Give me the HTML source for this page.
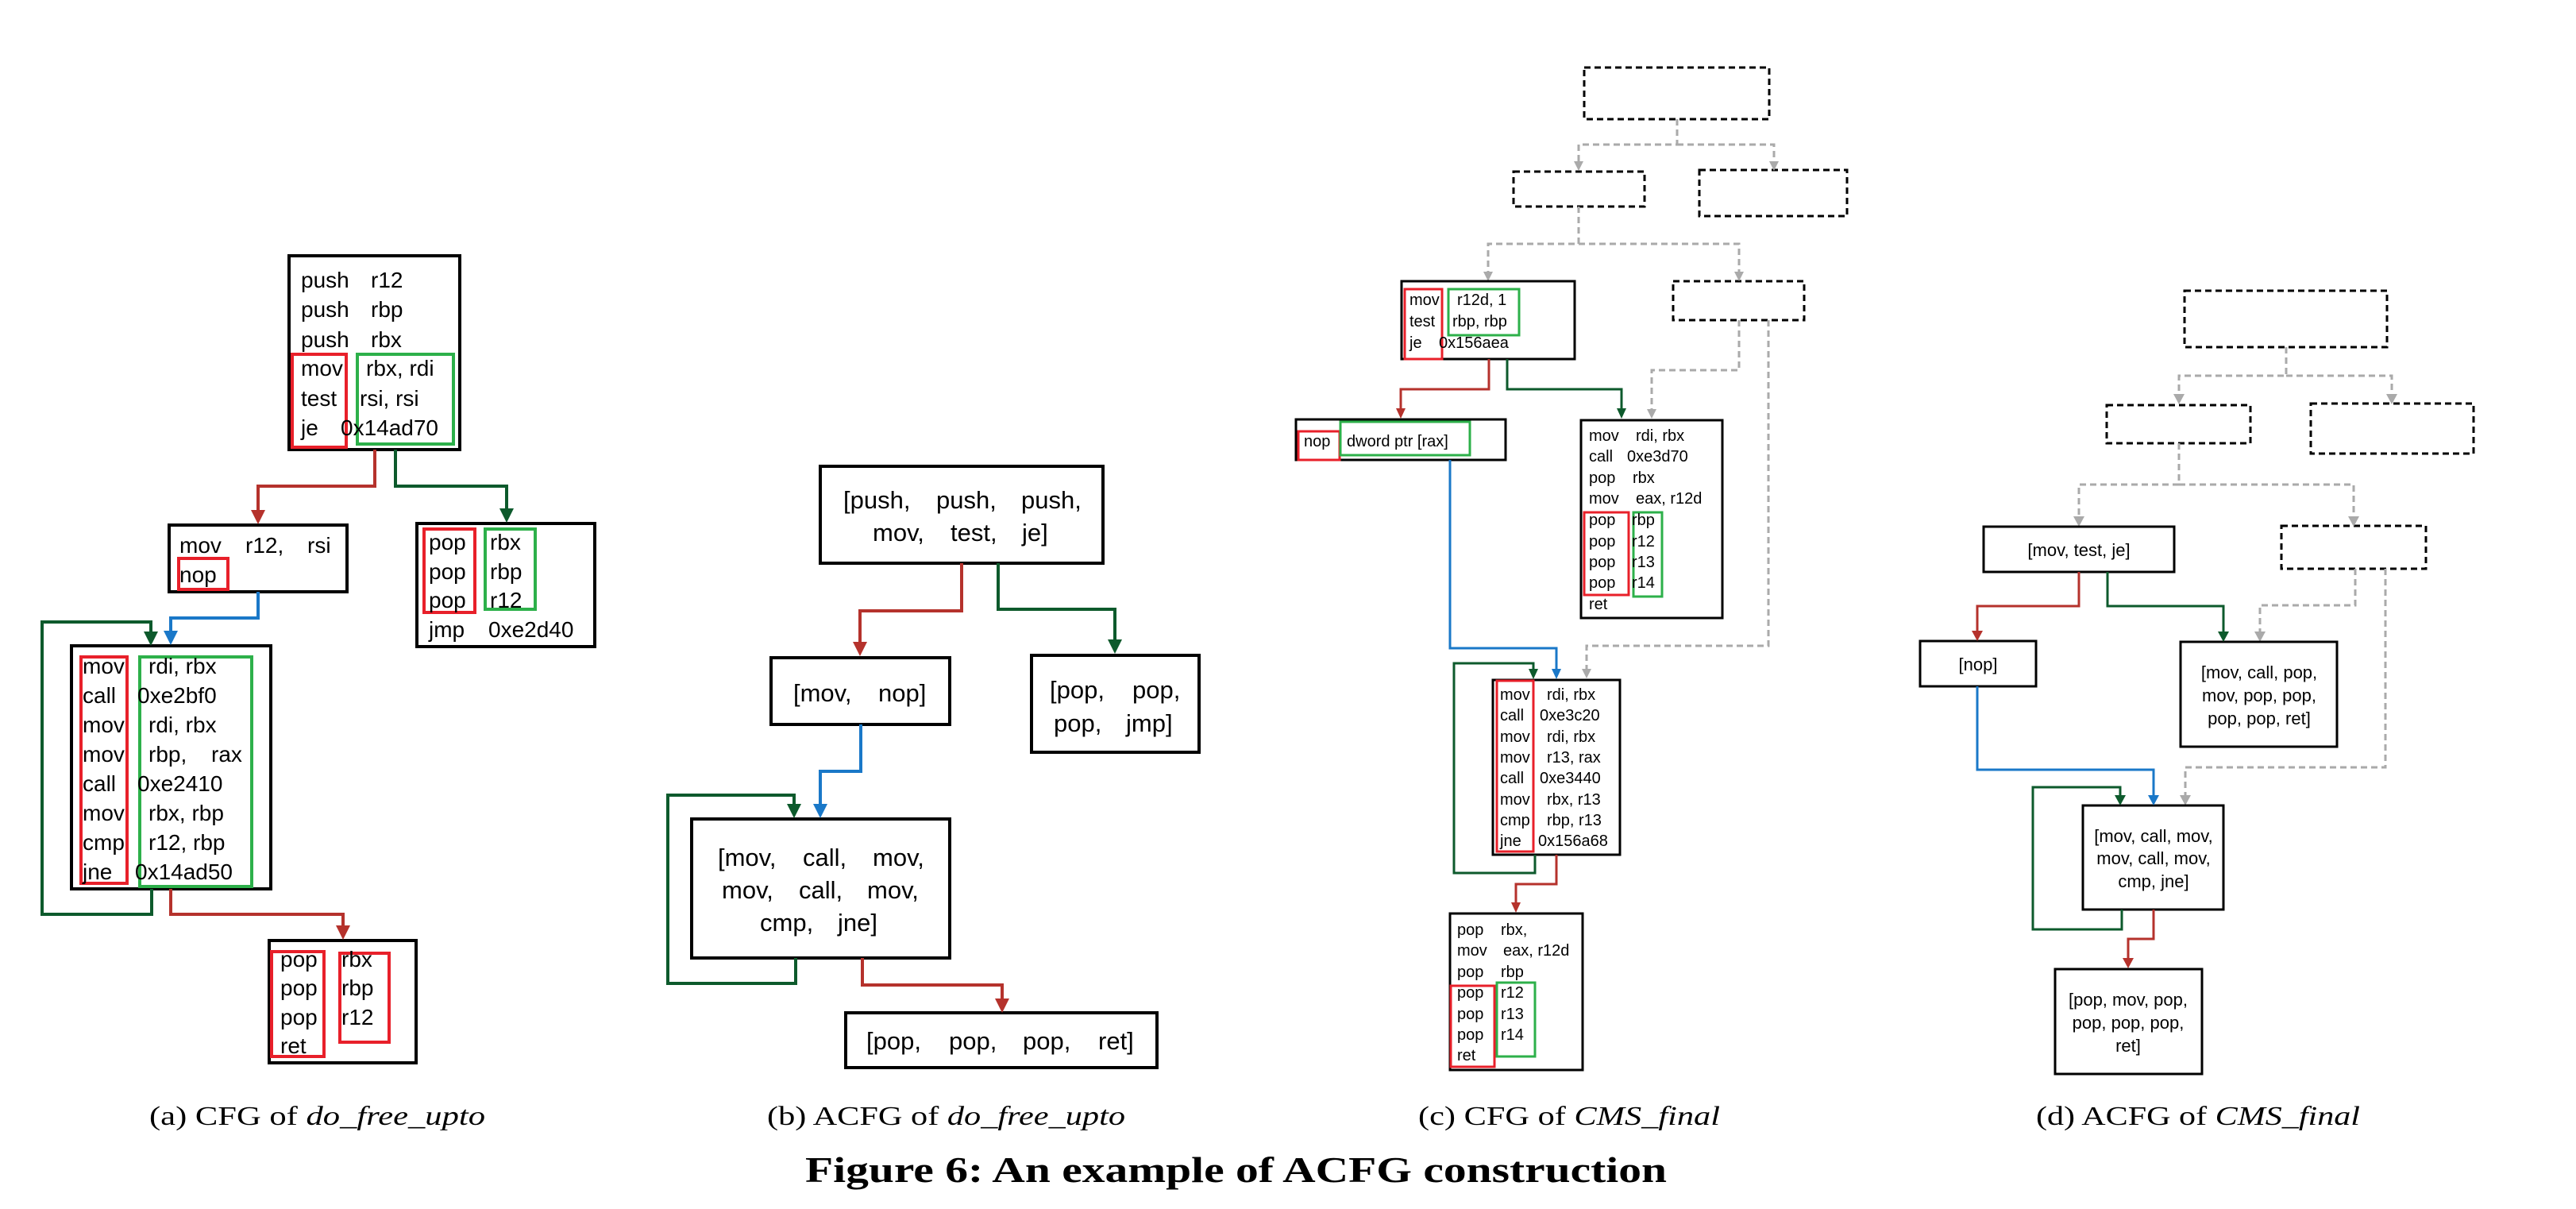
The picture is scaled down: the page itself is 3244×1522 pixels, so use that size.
<!DOCTYPE html>
<html><head><meta charset="utf-8"><style>
html,body{margin:0;padding:0;background:#fff;}
svg{display:block;}
.s{font-family:"Liberation Sans",sans-serif;fill:#000;}
.f{font-family:"Liberation Serif",serif;fill:#000;}
</style></head><body>
<svg width="3244" height="1522" viewBox="0 0 3244 1522" xmlns="http://www.w3.org/2000/svg">
<g fill="none" stroke-linejoin="miter">
<!-- ===== Panel a ===== -->
<g stroke="#000" stroke-width="4">
<rect x="364" y="322" width="215" height="244"/>
<rect x="213" y="661" width="224" height="84"/>
<rect x="525" y="659" width="224" height="155"/>
<rect x="90" y="813" width="251" height="306"/>
<rect x="339" y="1184" width="185" height="154"/>
</g>
<g stroke="#e8202a" stroke-width="4">
<rect x="368" y="446" width="68" height="117"/>
<rect x="225" y="703" width="62" height="39"/>
<rect x="534" y="666" width="64" height="105"/>
<rect x="102" y="827" width="58" height="285"/>
<rect x="342" y="1198" width="66" height="132"/>
<rect x="428" y="1200" width="62" height="112"/>
</g>
<g stroke="#2db04a" stroke-width="4">
<rect x="450" y="446" width="121" height="113"/>
<rect x="611" y="666" width="63" height="101"/>
<rect x="176" y="827" width="141" height="289"/>
</g>
<g stroke-width="4">
<polyline stroke="#b5322c" points="472,566 472,612 325,612 325,642"/>
<polyline stroke="#0d5a2c" points="498,566 498,612 638,612 638,640"/>
<polyline stroke="#1a78c8" points="325,745 325,778 215,778 215,794"/>
<polyline stroke="#0d5a2c" points="191,1119 191,1151 53,1151 53,783 190,783 190,796"/>
<polyline stroke="#b5322c" points="215,1119 215,1151 432,1151 432,1166"/>
</g>
<g stroke="none">
<polygon fill="#b5322c" points="316,642 334,642 325,660"/>
<polygon fill="#0d5a2c" points="629,640 647,640 638,658"/>
<polygon fill="#1a78c8" points="206,794 224,794 215,812"/>
<polygon fill="#0d5a2c" points="181,795 199,795 190,813"/>
<polygon fill="#b5322c" points="423,1165 441,1165 432,1183"/>
</g>

<!-- ===== Panel b ===== -->
<g stroke="#000" stroke-width="4">
<rect x="1033" y="587" width="356" height="122"/>
<rect x="971" y="828" width="225" height="84"/>
<rect x="1299" y="825" width="211" height="122"/>
<rect x="871" y="1031" width="325" height="175"/>
<rect x="1065" y="1275" width="392" height="69"/>
</g>
<g stroke-width="4">
<polyline stroke="#b5322c" points="1211,709 1211,769 1083,769 1083,808"/>
<polyline stroke="#0d5a2c" points="1257,709 1257,767 1404,767 1404,805"/>
<polyline stroke="#1a78c8" points="1084,912 1084,971 1033,971 1033,1012"/>
<polyline stroke="#0d5a2c" points="1002,1206 1002,1238 841,1238 841,1001 1000,1001 1000,1012"/>
<polyline stroke="#b5322c" points="1086,1206 1086,1240 1262,1240 1262,1257"/>
</g>
<g stroke="none">
<polygon fill="#b5322c" points="1074,808 1092,808 1083,826"/>
<polygon fill="#0d5a2c" points="1395,805 1413,805 1404,823"/>
<polygon fill="#1a78c8" points="1024,1012 1042,1012 1033,1030"/>
<polygon fill="#0d5a2c" points="991,1012 1009,1012 1000,1030"/>
<polygon fill="#b5322c" points="1253,1257 1271,1257 1262,1275"/>
</g>

<!-- ===== Panel c ===== -->
<g stroke="#000" stroke-width="3" stroke-dasharray="8 5">
<rect x="1995" y="85" width="233" height="65"/>
<rect x="1906" y="216" width="165" height="44"/>
<rect x="2140" y="214" width="186" height="58"/>
<rect x="2107" y="354" width="165" height="49"/>
</g>
<g stroke="#aaa" stroke-width="3" stroke-dasharray="8 5">
<polyline points="2112,150 2112,182 1988,182 1988,203"/>
<polyline points="2112,182 2234,182 2234,203"/>
<polyline points="1988,260 1988,307 1874,307 1874,342"/>
<polyline points="1988,307 2190,307 2190,342"/>
<polyline points="2190,403 2190,466 2080,466 2080,515"/>
<polyline points="2227,403 2227,813 1998,813 1998,842"/>
</g>
<g stroke="none" fill="#aaa">
<polygon points="1982,203 1994,203 1988,215"/>
<polygon points="2228,203 2240,203 2234,215"/>
<polygon points="1868,342 1880,342 1874,354"/>
<polygon points="2184,342 2196,342 2190,354"/>
<polygon points="2074,515 2086,515 2080,527"/>
<polygon points="1992,842 2004,842 1998,854"/>
</g>
<g stroke="#000" stroke-width="3">
<rect x="1765" y="354" width="218" height="98"/>
<rect x="1632" y="528" width="264" height="51"/>
<rect x="1991" y="529" width="178" height="249"/>
<rect x="1880" y="856" width="160" height="220"/>
<rect x="1826" y="1150" width="167" height="197"/>
</g>
<g stroke="#e8202a" stroke-width="3">
<rect x="1769" y="364" width="47" height="88"/>
<rect x="1635" y="543" width="52" height="36"/>
<rect x="1995" y="645" width="56" height="104"/>
<rect x="1885" y="857" width="46" height="215"/>
<rect x="1827" y="1241" width="55" height="102"/>
</g>
<g stroke="#2db04a" stroke-width="3">
<rect x="1824" y="364" width="89" height="58"/>
<rect x="1688" y="531" width="163" height="42"/>
<rect x="2057" y="645" width="36" height="106"/>
<rect x="1885" y="1237" width="48" height="93"/>
</g>
<g stroke-width="3">
<polyline stroke="#b5322c" points="1875,452 1875,490 1764,490 1764,514"/>
<polyline stroke="#0d5a2c" points="1898,452 1898,490 2042,490 2042,514"/>
<polyline stroke="#1a78c8" points="1826,579 1826,816 1960,816 1960,842"/>
<polyline stroke="#0d5a2c" points="1933,1076 1933,1099 1831,1099 1831,835 1931,835 1931,842"/>
<polyline stroke="#b5322c" points="1960,1076 1960,1113 1909,1113 1909,1136"/>
</g>
<g stroke="none">
<polygon fill="#b5322c" points="1758,514 1770,514 1764,527"/>
<polygon fill="#0d5a2c" points="2036,514 2048,514 2042,527"/>
<polygon fill="#1a78c8" points="1954,842 1966,842 1960,855"/>
<polygon fill="#0d5a2c" points="1925,842 1937,842 1931,855"/>
<polygon fill="#b5322c" points="1903,1136 1915,1136 1909,1149"/>
</g>

<!-- ===== Panel d ===== -->
<g stroke="#000" stroke-width="3" stroke-dasharray="8 5">
<rect x="2751" y="366" width="255" height="71"/>
<rect x="2653" y="510" width="181" height="48"/>
<rect x="2910" y="508" width="205" height="63"/>
<rect x="2873" y="662" width="182" height="54"/>
</g>
<g stroke="#aaa" stroke-width="3" stroke-dasharray="8 5">
<polyline points="2879,437 2879,473 2744,473 2744,496"/>
<polyline points="2879,473 3012,473 3012,496"/>
<polyline points="2744,558 2744,610 2618,610 2618,650"/>
<polyline points="2744,610 2964,610 2964,650"/>
<polyline points="2966,716 2966,762 2846,762 2846,795"/>
<polyline points="3004,716 3004,966 2752,966 2752,1001"/>
</g>
<g stroke="none" fill="#aaa">
<polygon points="2737,496 2751,496 2744,509"/>
<polygon points="3005,496 3019,496 3012,509"/>
<polygon points="2611,650 2625,650 2618,663"/>
<polygon points="2957,650 2971,650 2964,663"/>
<polygon points="2839,795 2853,795 2846,808"/>
<polygon points="2745,1001 2759,1001 2752,1014"/>
</g>
<g stroke="#000" stroke-width="3">
<rect x="2498" y="663" width="240" height="57"/>
<rect x="2418" y="807" width="146" height="57"/>
<rect x="2746" y="808" width="197" height="132"/>
<rect x="2623" y="1014" width="177" height="131"/>
<rect x="2588" y="1220" width="185" height="132"/>
</g>
<g stroke-width="3">
<polyline stroke="#b5322c" points="2618,720 2618,763 2490,763 2490,794"/>
<polyline stroke="#0d5a2c" points="2654,720 2654,763 2800,763 2800,795"/>
<polyline stroke="#1a78c8" points="2490,864 2490,969 2712,969 2712,1001"/>
<polyline stroke="#0d5a2c" points="2672,1145 2672,1170 2560,1170 2560,991 2670,991 2670,1001"/>
<polyline stroke="#b5322c" points="2712,1145 2712,1182 2680,1182 2680,1206"/>
</g>
<g stroke="none">
<polygon fill="#b5322c" points="2483,794 2497,794 2490,807"/>
<polygon fill="#0d5a2c" points="2793,795 2807,795 2800,808"/>
<polygon fill="#1a78c8" points="2705,1001 2719,1001 2712,1014"/>
<polygon fill="#0d5a2c" points="2663,1001 2677,1001 2670,1014"/>
<polygon fill="#b5322c" points="2673,1206 2687,1206 2680,1219"/>
</g>
</g>

<!-- ===== Text a ===== -->
<g class="s" font-size="28">
<text x="379" y="362">push</text><text x="467" y="362">r12</text>
<text x="379" y="399">push</text><text x="467" y="399">rbp</text>
<text x="379" y="437">push</text><text x="467" y="437">rbx</text>
<text x="379" y="473">mov</text><text x="461" y="473">rbx, rdi</text>
<text x="379" y="511">test</text><text x="453" y="511">rsi, rsi</text>
<text x="379" y="548">je</text><text x="429" y="548">0x14ad70</text>
<text x="226" y="696">mov</text><text x="309" y="696">r12,</text><text x="387" y="696">rsi</text>
<text x="226" y="733">nop</text>
<text x="540" y="692">pop</text><text x="617" y="692">rbx</text>
<text x="540" y="729">pop</text><text x="617" y="729">rbp</text>
<text x="540" y="765">pop</text><text x="617" y="765">r12</text>
<text x="540" y="802">jmp</text><text x="615" y="802">0xe2d40</text>
<text x="104" y="848">mov</text><text x="187" y="848">rdi, rbx</text>
<text x="104" y="885">call</text><text x="173" y="885">0xe2bf0</text>
<text x="104" y="922">mov</text><text x="187" y="922">rdi, rbx</text>
<text x="104" y="959">mov</text><text x="187" y="959">rbp,</text><text x="266" y="959">rax</text>
<text x="104" y="996">call</text><text x="173" y="996">0xe2410</text>
<text x="104" y="1033">mov</text><text x="187" y="1033">rbx, rbp</text>
<text x="104" y="1070">cmp</text><text x="187" y="1070">r12, rbp</text>
<text x="104" y="1107">jne</text><text x="170" y="1107">0x14ad50</text>
<text x="353" y="1217">pop</text><text x="430" y="1217">rbx</text>
<text x="353" y="1253">pop</text><text x="430" y="1253">rbp</text>
<text x="353" y="1290">pop</text><text x="430" y="1290">r12</text>
<text x="353" y="1326">ret</text>
</g>
<!-- ===== Text b ===== -->
<g class="s" font-size="31">
<text x="1062" y="640">[push,</text><text x="1179" y="640">push,</text><text x="1286" y="640">push,</text>
<text x="1099" y="681">mov,</text><text x="1197" y="681">test,</text><text x="1287" y="681">je]</text>
<text x="999" y="883">[mov,</text><text x="1106" y="883">nop]</text>
<text x="1322" y="879">[pop,</text><text x="1426" y="879">pop,</text>
<text x="1327" y="921">pop,</text><text x="1418" y="921">jmp]</text>
<text x="904" y="1090">[mov,</text><text x="1011" y="1090">call,</text><text x="1099" y="1090">mov,</text>
<text x="909" y="1131">mov,</text><text x="1006" y="1131">call,</text><text x="1092" y="1131">mov,</text>
<text x="957" y="1172">cmp,</text><text x="1055" y="1172">jne]</text>
<text x="1091" y="1321">[pop,</text><text x="1195" y="1321">pop,</text><text x="1288" y="1321">pop,</text><text x="1383" y="1321">ret]</text>
</g>
<!-- ===== Text c ===== -->
<g class="s" font-size="20">
<text x="1775" y="384">mov</text><text x="1835" y="384">r12d, 1</text>
<text x="1775" y="411">test</text><text x="1829" y="411">rbp, rbp</text>
<text x="1775" y="438">je</text><text x="1812" y="438">0x156aea</text>
<text x="1642" y="562">nop</text><text x="1696" y="562">dword ptr [rax]</text>
<text x="2001" y="555">mov</text><text x="2060" y="555">rdi, rbx</text>
<text x="2001" y="581">call</text><text x="2049" y="581">0xe3d70</text>
<text x="2001" y="608">pop</text><text x="2056" y="608">rbx</text>
<text x="2001" y="634">mov</text><text x="2060" y="634">eax, r12d</text>
<text x="2001" y="661">pop</text><text x="2055" y="661">rbp</text>
<text x="2001" y="688">pop</text><text x="2055" y="688">r12</text>
<text x="2001" y="714">pop</text><text x="2055" y="714">r13</text>
<text x="2001" y="740">pop</text><text x="2055" y="740">r14</text>
<text x="2001" y="767">ret</text>
<text x="1889" y="881">mov</text><text x="1948" y="881">rdi, rbx</text>
<text x="1889" y="907">call</text><text x="1939" y="907">0xe3c20</text>
<text x="1889" y="934">mov</text><text x="1948" y="934">rdi, rbx</text>
<text x="1889" y="960">mov</text><text x="1948" y="960">r13, rax</text>
<text x="1889" y="986">call</text><text x="1939" y="986">0xe3440</text>
<text x="1889" y="1013">mov</text><text x="1948" y="1013">rbx, r13</text>
<text x="1889" y="1039">cmp</text><text x="1948" y="1039">rbp, r13</text>
<text x="1889" y="1065">jne</text><text x="1937" y="1065">0x156a68</text>
<text x="1835" y="1177">pop</text><text x="1890" y="1177">rbx,</text>
<text x="1835" y="1203">mov</text><text x="1893" y="1203">eax, r12d</text>
<text x="1835" y="1230">pop</text><text x="1890" y="1230">rbp</text>
<text x="1835" y="1256">pop</text><text x="1890" y="1256">r12</text>
<text x="1835" y="1283">pop</text><text x="1890" y="1283">r13</text>
<text x="1835" y="1309">pop</text><text x="1890" y="1309">r14</text>
<text x="1835" y="1335">ret</text>
</g>
<!-- ===== Text d ===== -->
<g class="s" font-size="22" text-anchor="middle">
<text x="2618" y="700">[mov, test, je]</text>
<text x="2491" y="844">[nop]</text>
<text x="2845" y="854">[mov, call, pop,</text>
<text x="2845" y="883">mov, pop, pop,</text>
<text x="2845" y="912">pop, pop, ret]</text>
<text x="2712" y="1060">[mov, call, mov,</text>
<text x="2712" y="1088">mov, call, mov,</text>
<text x="2712" y="1117">cmp, jne]</text>
<text x="2680" y="1266">[pop, mov, pop,</text>
<text x="2680" y="1295">pop, pop, pop,</text>
<text x="2680" y="1324">ret]</text>
</g>
<!-- ===== Captions ===== -->
<g class="f" font-size="34">
<text x="188" y="1416" textLength="423" lengthAdjust="spacingAndGlyphs">(a)  CFG of <tspan font-style="italic">do_free_upto</tspan></text>
<text x="966" y="1416" textLength="451" lengthAdjust="spacingAndGlyphs">(b)  ACFG of <tspan font-style="italic">do_free_upto</tspan></text>
<text x="1786" y="1416" textLength="380" lengthAdjust="spacingAndGlyphs">(c)  CFG of <tspan font-style="italic">CMS_final</tspan></text>
<text x="2564" y="1416" textLength="408" lengthAdjust="spacingAndGlyphs">(d)  ACFG of <tspan font-style="italic">CMS_final</tspan></text>
</g>
<text class="f" x="1014" y="1488" font-size="46" font-weight="bold" textLength="1085" lengthAdjust="spacingAndGlyphs">Figure 6: An example of ACFG construction</text>
</svg>
</body></html>
